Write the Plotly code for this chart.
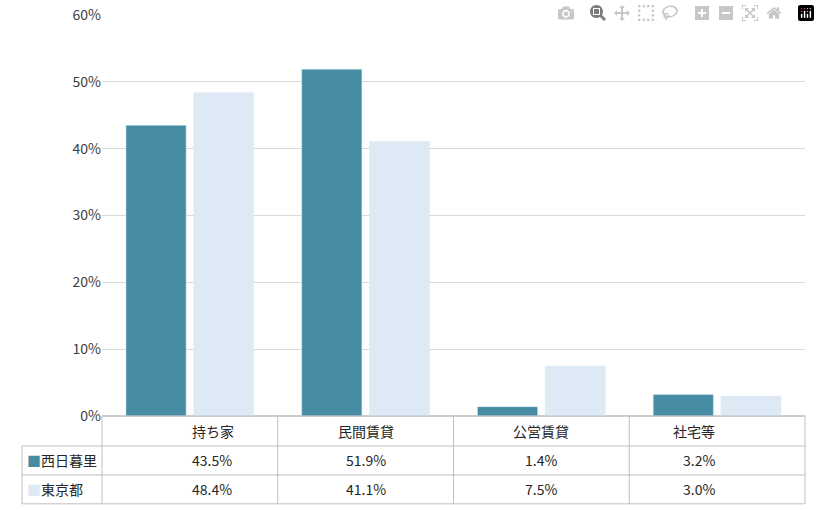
import plotly.graph_objects as go

categories = ["持ち家", "民間賃貸", "公営賃貸", "社宅等"]
series_names = ["西日暮里", "東京都"]
nishinippori = [43.5, 51.9, 1.4, 3.2]
tokyo = [48.4, 41.1, 7.5, 3.0]
colors = ["#468CA5", "#DDEAF5"]
font = "Noto Sans CJK JP"

fig = go.Figure()
for name, vals, c in zip(series_names, [nishinippori, tokyo], colors):
    fig.add_bar(x=categories, y=vals, name=name, marker_color=c, showlegend=False)

fig.update_layout(
    width=820, height=510, margin=dict(l=102, r=15, t=15, b=94, autoexpand=False),
    paper_bgcolor="white", plot_bgcolor="white",
    barmode="group", bargap=0.23, bargroupgap=0.11,
    font=dict(family=font, size=14, color="#262626"),
    yaxis=dict(range=[0, 60], dtick=10, ticksuffix="%", gridcolor="#D9D9D9",
               zeroline=True, zerolinecolor="#D9D9D9", tickfont=dict(color="#404040")),
    xaxis=dict(showticklabels=False, range=[-0.5, 3.5]),
)

line = dict(color="#BFBFBF", width=1)
ys = [0, -0.0748, -0.147, -0.219]
xl = -0.1138
fig.add_shape(type="line", xref="paper", yref="paper", x0=0, x1=1, y0=ys[0], y1=ys[0], line=line)
for y in ys[1:]:
    fig.add_shape(type="line", xref="paper", yref="paper", x0=xl, x1=1, y0=y, y1=y, line=line)
for i in range(5):
    fig.add_shape(type="line", xref="paper", yref="paper", x0=i/4, x1=i/4, y0=0, y1=ys[3], line=line)
fig.add_shape(type="line", xref="paper", yref="paper", x0=xl, x1=xl, y0=ys[1], y1=ys[3], line=line)

for i, cat in enumerate(categories):
    fig.add_annotation(xref="paper", yref="paper", x=(i+0.5)/4, y=(ys[0]+ys[1])/2,
                       text=cat, showarrow=False, yanchor="middle")
for r, (name, vals, c) in enumerate(zip(series_names, [nishinippori, tokyo], colors)):
    yc = (ys[r+1]+ys[r+2])/2
    fig.add_annotation(xref="paper", yref="paper", x=xl+0.004, y=yc, xanchor="left",
                       text=f"<span style='color:{c}'>■</span>{name}", showarrow=False, yanchor="middle")
    for i, v in enumerate(vals):
        fig.add_annotation(xref="paper", yref="paper", x=(i+0.5)/4, y=yc,
                           text=f"{v:.1f}%", showarrow=False, yanchor="middle")

fig.write_html("out.html", post_script="document.body.style.margin='0';")
